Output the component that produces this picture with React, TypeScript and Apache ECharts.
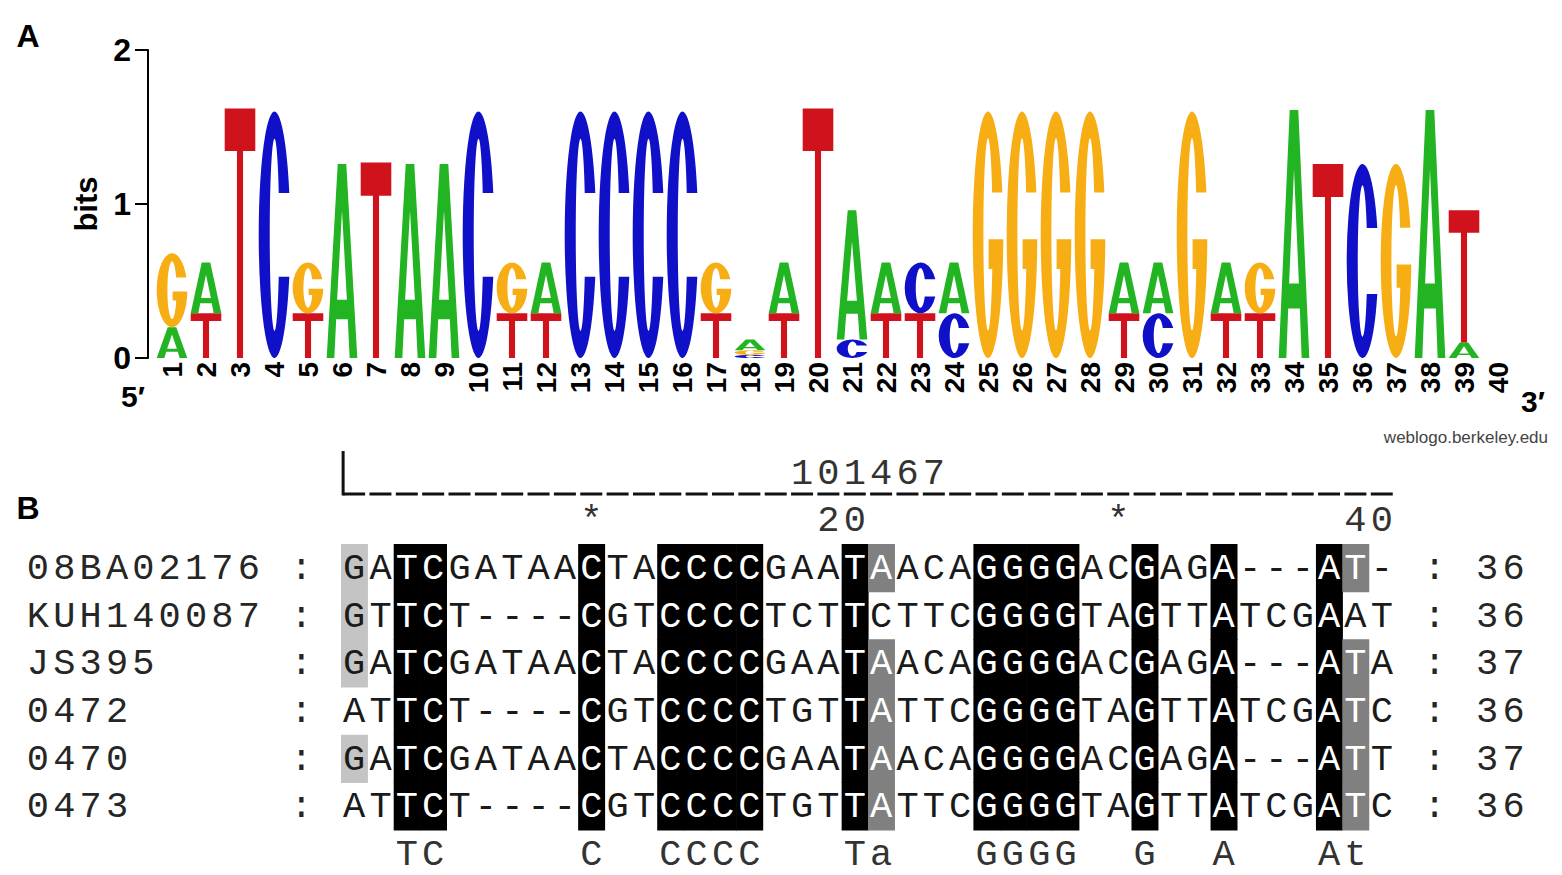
import React, { useEffect, useRef } from 'react';
import * as echarts from 'echarts';

// ---------- Panel A: sequence logo ----------
const logoPositions = ['1','2','3','4','5','6','7','8','9','10','11','12','13','14','15','16','17','18','19','20','21','22','23','24','25','26','27','28','29','30','31','32','33','34','35','36','37','38','39','40'];
// letters of each stack, bottom -> top
const logoStackLetters = ['AG','TA','T','C','TG','A','T','A','A','C','TG','TA','C','C','C','C','TG','CGA','TA','T','CA','TA','TC','CA','G','G','G','G','TA','CA','G','TA','TG','A','T','C','G','A','AT',''];
// heights (bits) of each letter, bottom -> top
const logoStackHeights = [
  [0.2, 0.48], [0.29, 0.33], [1.62], [1.6], [0.29, 0.33], [1.26], [1.27], [1.26], [1.26], [1.6],
  [0.29, 0.33], [0.29, 0.33], [1.6], [1.6], [1.6], [1.6], [0.29, 0.33], [0.02, 0.03, 0.07], [0.29, 0.33], [1.62],
  [0.12, 0.84], [0.29, 0.33], [0.29, 0.33], [0.29, 0.33], [1.6], [1.6], [1.6], [1.6], [0.29, 0.33], [0.29, 0.33],
  [1.6], [0.29, 0.33], [0.29, 0.33], [1.61], [1.26], [1.26], [1.26], [1.61], [0.1, 0.86], [],
];
const bitsMin = 0;
const bitsMax = 2;
const bitsInterval = 1;

// ---------- Panel B: alignment ----------
const seqNames = ['08BA02176', 'KUH140087', 'JS395', '0472', '0470', '0473'];
const sequences = [
  'GATCGATAACTACCCCGAATAACAGGGGACGAGA---AT-',
  'GTTCT----CGTCCCCTCTTCTTCGGGGTAGTTATCGAAT',
  'GATCGATAACTACCCCGAATAACAGGGGACGAGA---ATA',
  'ATTCT----CGTCCCCTGTTATTCGGGGTAGTTATCGATC',
  'GATCGATAACTACCCCGAATAACAGGGGACGAGA---ATT',
  'ATTCT----CGTCCCCTGTTATTCGGGGTAGTTATCGATC',
];
const seqLengths = ['36', '36', '37', '36', '37', '36'];
const rulerColumns = [10, 20, 30, 40];
const rulerTexts = ['*', '20', '*', '40'];
const alignmentTitle = '101467';
const alignmentTitleStartCol = 18;

const LETTERS = 'ACGT';
const BASE_COLORS = ['#22b422', '#1010c8', '#f7ad14', '#d0121c'];
const GLYPH_PATHS = [
  'M0,100 L36,0 L64,0 L100,100 L75,100 L69,80 L31,80 L25,100 Z M34,70 L66,70 L50,24 Z',
  'M97,33 A50,50 0 1 0 97,67 L63.5,67 A15,39 0 1 1 63.5,33 Z',
  'M97,33 A50,50 0 1 0 100,52 L52,52 L52,64 L64,64 A15,39 0 1 1 63.5,33 Z',
  'M0,0 L100,0 L100,17 L60,17 L60,100 L40,100 L40,17 L0,17 Z',
];

const SANS = '"Liberation Sans", Arial, Helvetica, sans-serif';
const MONO = '"Courier New", "Liberation Mono", monospace';
const SEQ_FONT = '37px ' + MONO;

type Cell = { col: number; row: number; ch: string; color: string; bg: string | null };

function buildLogoData() {
  const data: number[][] = [];
  logoStackLetters.forEach((letters, i) => {
    let base = 0;
    const hs = logoStackHeights[i];
    for (let k = 0; k < letters.length; k++) {
      data.push([i, base, base + hs[k], LETTERS.indexOf(letters[k])]);
      base += hs[k];
    }
  });
  return data;
}

function buildCells(): Cell[] {
  const cells: Cell[] = [];
  const LABEL = '#262626';
  const SEQ = '#1a1a1a';
  const put = (text: string, startCol: number, row: number, color: string) => {
    for (let i = 0; i < text.length; i++) cells.push({ col: startCol + i, row, ch: text[i], color, bg: null });
  };
  const n = sequences.length;
  const ncol = sequences[0].length;
  const colInfo: { best: string; level: number }[] = [];
  for (let c = 0; c < ncol; c++) {
    const counts: Record<string, number> = {};
    sequences.forEach((s) => {
      const ch = s[c];
      if (ch !== '-') counts[ch] = (counts[ch] || 0) + 1;
    });
    let best = '';
    let bestN = 0;
    Object.keys(counts).forEach((k) => {
      if (counts[k] > bestN) { best = k; bestN = counts[k]; }
    });
    const frac = bestN / n;
    const level = frac === 1 ? 3 : frac >= 0.8 ? 2 : frac >= 0.6 ? 1 : 0;
    colInfo.push({ best, level });
  }
  const shades = [null, '#c4c4c4', '#808080', '#000000'];
  sequences.forEach((s, r) => {
    put(seqNames[r], -12, r, LABEL);
    put(':', -2, r, LABEL);
    for (let c = 0; c < ncol; c++) {
      const info = colInfo[c];
      const ch = s[c];
      const hit = ch === info.best && info.level > 0;
      cells.push({
        col: c, row: r, ch,
        color: hit && info.level >= 2 ? '#ffffff' : SEQ,
        bg: hit ? shades[info.level] : null,
      });
    }
    put(':', ncol + 1, r, LABEL);
    put(seqLengths[r], ncol + 3, r, LABEL);
  });
  colInfo.forEach((info, c) => {
    if (info.level >= 2) {
      cells.push({ col: c, row: n, ch: info.level === 3 ? info.best : info.best.toLowerCase(), color: '#333333', bg: null });
    }
  });
  rulerColumns.forEach((col, i) => put(rulerTexts[i], col - rulerTexts[i].length, -1, '#333333'));
  put(alignmentTitle, alignmentTitleStartCol - 1, -2, '#333333');
  return cells;
}

function buildOption() {
  const logoData = buildLogoData();
  const cells = buildCells();
  return {
    animation: false,
    backgroundColor: '#ffffff',
    grid: [
      { left: 155, right: 47, top: 50, height: 308 },
      { left: 341, right: 167, top: 544, height: 286 },
    ],
    xAxis: [
      {
        type: 'category', gridIndex: 0, data: logoPositions, boundaryGap: true,
        axisLine: { show: false }, axisTick: { show: false }, splitLine: { show: false },
        axisLabel: { interval: 0, rotate: 90, margin: 4, fontSize: 28, fontWeight: 'bold', color: '#000', fontFamily: SANS },
      },
      { type: 'value', gridIndex: 1, min: 0, max: 40, show: false },
    ],
    yAxis: [
      {
        type: 'value', gridIndex: 0, min: bitsMin, max: bitsMax, interval: bitsInterval, offset: 7,
        name: 'bits', nameLocation: 'middle', nameRotate: 90, nameGap: 38,
        nameTextStyle: { fontSize: 31, fontWeight: 'bold', color: '#000', fontFamily: SANS },
        axisLine: { show: true, lineStyle: { color: '#000', width: 2 } },
        axisTick: { show: true, length: 13, lineStyle: { color: '#000', width: 2 } },
        axisLabel: { margin: 17, fontSize: 32, fontWeight: 'bold', color: '#000', fontFamily: SANS },
        splitLine: { show: false },
      },
      { type: 'value', gridIndex: 1, min: 0, max: 6, inverse: true, show: false },
    ],
    series: [
      {
        type: 'custom', name: 'logo', xAxisIndex: 0, yAxisIndex: 0, clip: false,
        data: logoData, encode: { x: 0, y: [1, 2] },
        renderItem: (params: any, api: any) => {
          const pos = api.value(0);
          const lo = api.value(1);
          const hi = api.value(2);
          const li = api.value(3);
          const bottom = api.coord([pos, lo]);
          const top = api.coord([pos, hi]);
          const w = api.size([1, 0])[0] * 0.9;
          const h = Math.max(bottom[1] - top[1], 0.5);
          return {
            type: 'path',
            shape: { pathData: GLYPH_PATHS[li], x: bottom[0] - w / 2, y: top[1], width: w, height: h, layout: 'cover' },
            style: { fill: BASE_COLORS[li] },
          };
        },
      },
      {
        type: 'custom', name: 'alignment', xAxisIndex: 1, yAxisIndex: 1, clip: false,
        data: cells.map((c) => [c.col + 0.5, c.row + 0.5]), encode: { x: 0, y: 1 },
        renderItem: (params: any, api: any) => {
          const it = cells[params.dataIndex];
          const tl = api.coord([it.col, it.row]);
          const br = api.coord([it.col + 1, it.row + 1]);
          const cx = (tl[0] + br[0]) / 2;
          const cy = (tl[1] + br[1]) / 2;
          const children: any[] = [];
          if (it.bg) {
            children.push({
              type: 'rect',
              shape: { x: tl[0], y: tl[1], width: br[0] - tl[0] + 0.6, height: br[1] - tl[1] + 0.6 },
              style: { fill: it.bg },
            });
          }
          children.push({
            type: 'text', x: cx, y: cy + 1,
            style: { text: it.ch, fill: it.color, font: SEQ_FONT, align: 'center', verticalAlign: 'middle', textAlign: 'center', textVerticalAlign: 'middle' },
          });
          return { type: 'group', children };
        },
      },
      {
        type: 'custom', name: 'bracket', xAxisIndex: 1, yAxisIndex: 1, clip: false,
        data: [[0, -1]], encode: { x: 0, y: 1 },
        renderItem: (params: any, api: any) => {
          const a = api.coord([0.08, -1.95]);
          const b = api.coord([0.08, -1.05]);
          const c = api.coord([40, -1.05]);
          return {
            type: 'group',
            children: [
              { type: 'line', shape: { x1: a[0], y1: a[1], x2: b[0], y2: b[1] + 1.5 }, style: { stroke: '#111', lineWidth: 3 } },
              { type: 'line', shape: { x1: b[0], y1: b[1], x2: c[0], y2: c[1] }, style: { stroke: '#111', lineWidth: 3, lineDash: [22, 4.35] } },
            ],
          };
        },
      },
    ],
    graphic: [
      { type: 'text', x: 28, y: 36, style: { text: 'A', font: 'bold 32px ' + SANS, fill: '#000', align: 'center', verticalAlign: 'middle', textAlign: 'center', textVerticalAlign: 'middle' } },
      { type: 'text', x: 28, y: 508, style: { text: 'B', font: 'bold 32px ' + SANS, fill: '#000', align: 'center', verticalAlign: 'middle', textAlign: 'center', textVerticalAlign: 'middle' } },
      { type: 'text', x: 133, y: 396, style: { text: '5\u2032', font: 'bold 30px ' + SANS, fill: '#000', align: 'center', verticalAlign: 'middle', textAlign: 'center', textVerticalAlign: 'middle' } },
      { type: 'text', x: 1533, y: 401, style: { text: '3\u2032', font: 'bold 30px ' + SANS, fill: '#000', align: 'center', verticalAlign: 'middle', textAlign: 'center', textVerticalAlign: 'middle' } },
      { type: 'text', x: 1548, y: 437, style: { text: 'weblogo.berkeley.edu', font: '17px ' + SANS, fill: '#444', align: 'right', verticalAlign: 'middle', textAlign: 'right', textVerticalAlign: 'middle' } },
    ],
  };
}

export default function App() {
  const ref = useRef<HTMLDivElement>(null);
  useEffect(() => {
    if (!ref.current) return;
    const chart = echarts.init(ref.current, undefined, { renderer: 'svg' });
    chart.setOption(buildOption() as any);
    return () => chart.dispose();
  }, []);
  return (
    <div
      ref={ref}
      style={{ position: 'absolute', left: 0, top: 0, width: 1562, height: 875, background: '#fff' }}
    />
  );
}
